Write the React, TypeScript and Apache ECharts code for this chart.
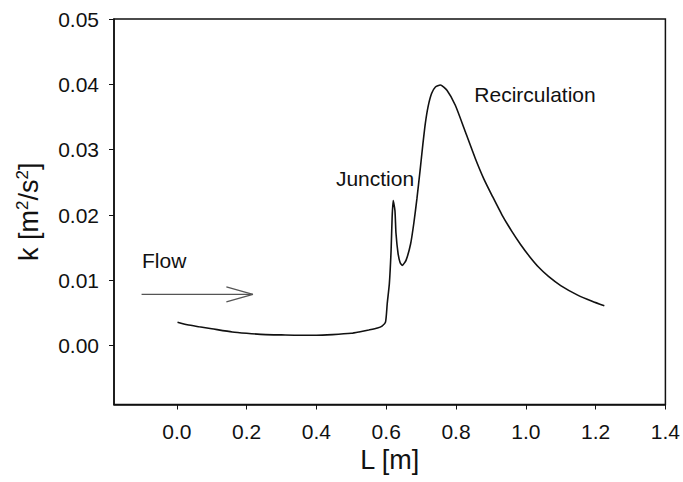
import React, { useEffect, useRef } from "react";
import * as echarts from "echarts";

// Turbulent kinetic energy k along L
const lengthM = [0.002, 0.03, 0.064, 0.1, 0.159, 0.2, 0.255, 0.3, 0.35, 0.4, 0.446, 0.5, 0.522, 0.55, 0.575, 0.588, 0.598, 0.603, 0.609, 0.614, 0.617, 0.620, 0.625, 0.628, 0.634, 0.640, 0.646, 0.657, 0.670, 0.679, 0.688, 0.697, 0.705, 0.712, 0.720, 0.730, 0.741, 0.755, 0.774, 0.798, 0.827, 0.855, 0.880, 0.905, 0.932, 0.960, 0.985, 1.010, 1.037, 1.065, 1.100, 1.150, 1.190, 1.225];
const kValues = [0.0036, 0.0032, 0.0029, 0.0026, 0.0021, 0.0019, 0.0017, 0.00165, 0.0016, 0.0016, 0.0017, 0.0019, 0.0021, 0.0024, 0.0027, 0.0030, 0.0036, 0.0065, 0.0095, 0.0146, 0.0197, 0.0222, 0.0207, 0.0172, 0.0141, 0.0127, 0.0123, 0.0131, 0.0156, 0.0187, 0.0225, 0.0268, 0.0308, 0.0340, 0.0366, 0.0386, 0.0396, 0.0399, 0.0391, 0.0368, 0.0327, 0.0287, 0.0255, 0.0228, 0.0200, 0.0175, 0.0155, 0.0137, 0.0120, 0.0106, 0.0092, 0.0077, 0.0068, 0.0061];

// Flow arrow (data coordinates)
const arrowShaftX = [-0.101, 0.218];
const arrowShaftY = [0.00784, 0.00784];
const arrowHeadX = [0.142, 0.218, 0.142];
const arrowHeadY = [0.0090, 0.00784, 0.0067];

const xTicks = [0.0, 0.2, 0.4, 0.6, 0.8, 1.0, 1.2, 1.4];
const yTicks = [0.0, 0.01, 0.02, 0.03, 0.04, 0.05];

const FONT = "'Liberation Sans', Arial, Helvetica, sans-serif";

export default function App() {
  const ref = useRef<HTMLDivElement>(null);
  useEffect(() => {
    if (!ref.current) return;
    const chart = echarts.init(ref.current, null, { renderer: "svg" });
    const zip = (xs: number[], ys: number[]) => xs.map((x, i) => [x, ys[i]]);
    chart.setOption({
      animation: false,
      backgroundColor: "#ffffff",
      grid: {
        left: 114,
        right: 16,
        top: 19,
        bottom: 77.5,
        show: true,
        borderColor: "#111",
        borderWidth: 1.5,
        backgroundColor: "transparent",
      },
      xAxis: {
        type: "value",
        min: -0.18,
        max: 1.4,
        name: "L [m]",
        nameLocation: "middle",
        nameGap: 42,
        nameTextStyle: { fontSize: 27, color: "#111", fontFamily: FONT },
        axisLine: { show: true, onZero: false, lineStyle: { color: "#111", width: 1.5 } },
        axisTick: { show: true, inside: false, length: 5, customValues: xTicks, lineStyle: { color: "#111", width: 1 } },
        axisLabel: {
          customValues: xTicks,
          margin: 16,
          fontSize: 21,
          color: "#111",
          fontFamily: FONT,
          formatter: (v: number) => v.toFixed(1),
        },
        splitLine: { show: false },
      },
      yAxis: {
        type: "value",
        min: -0.009,
        max: 0.05,
        name: "k [m{sup|2}/s{sup|2}]",
        nameLocation: "middle",
        nameRotate: 90,
        nameGap: 70,
        nameTextStyle: {
          fontSize: 27,
          color: "#111",
          fontFamily: FONT,
          rich: {
            sup: { fontSize: 17, color: "#111", fontFamily: FONT, verticalAlign: "top", lineHeight: 30 },
          },
        },
        axisLine: { show: true, onZero: false, lineStyle: { color: "#111", width: 1.5 } },
        axisTick: { show: true, inside: false, length: 5, customValues: yTicks, lineStyle: { color: "#111", width: 1 } },
        axisLabel: {
          customValues: yTicks,
          margin: 15,
          fontSize: 21,
          color: "#111",
          fontFamily: FONT,
          formatter: (v: number) => v.toFixed(2),
        },
        splitLine: { show: false },
      },
      series: [
        {
          type: "line",
          data: zip(lengthM, kValues),
          showSymbol: false,
          smooth: 0.2,
          lineStyle: { color: "#111", width: 1.6 },
          z: 3,
        },
        {
          type: "line",
          data: zip(arrowShaftX, arrowShaftY),
          showSymbol: false,
          lineStyle: { color: "#555", width: 1.3 },
        },
        {
          type: "line",
          data: zip(arrowHeadX, arrowHeadY),
          showSymbol: false,
          lineStyle: { color: "#555", width: 1.3 },
        },
      ],
      graphic: [
        { type: "text", x: 142, y: 260, style: { text: "Flow", fontSize: 21, fill: "#111", fontFamily: FONT, textAlign: "left", textVerticalAlign: "middle" } },
        { type: "text", x: 375, y: 178, style: { text: "Junction", fontSize: 21, fill: "#111", fontFamily: FONT, textAlign: "center", textVerticalAlign: "middle" } },
        { type: "text", x: 535, y: 94, style: { text: "Recirculation", fontSize: 21, fill: "#111", fontFamily: FONT, textAlign: "center", textVerticalAlign: "middle" } },
      ],
    });
    return () => chart.dispose();
  }, []);
  return <div ref={ref} style={{ position: "fixed", left: 0, top: 0, width: 683, height: 482 }} />;
}
